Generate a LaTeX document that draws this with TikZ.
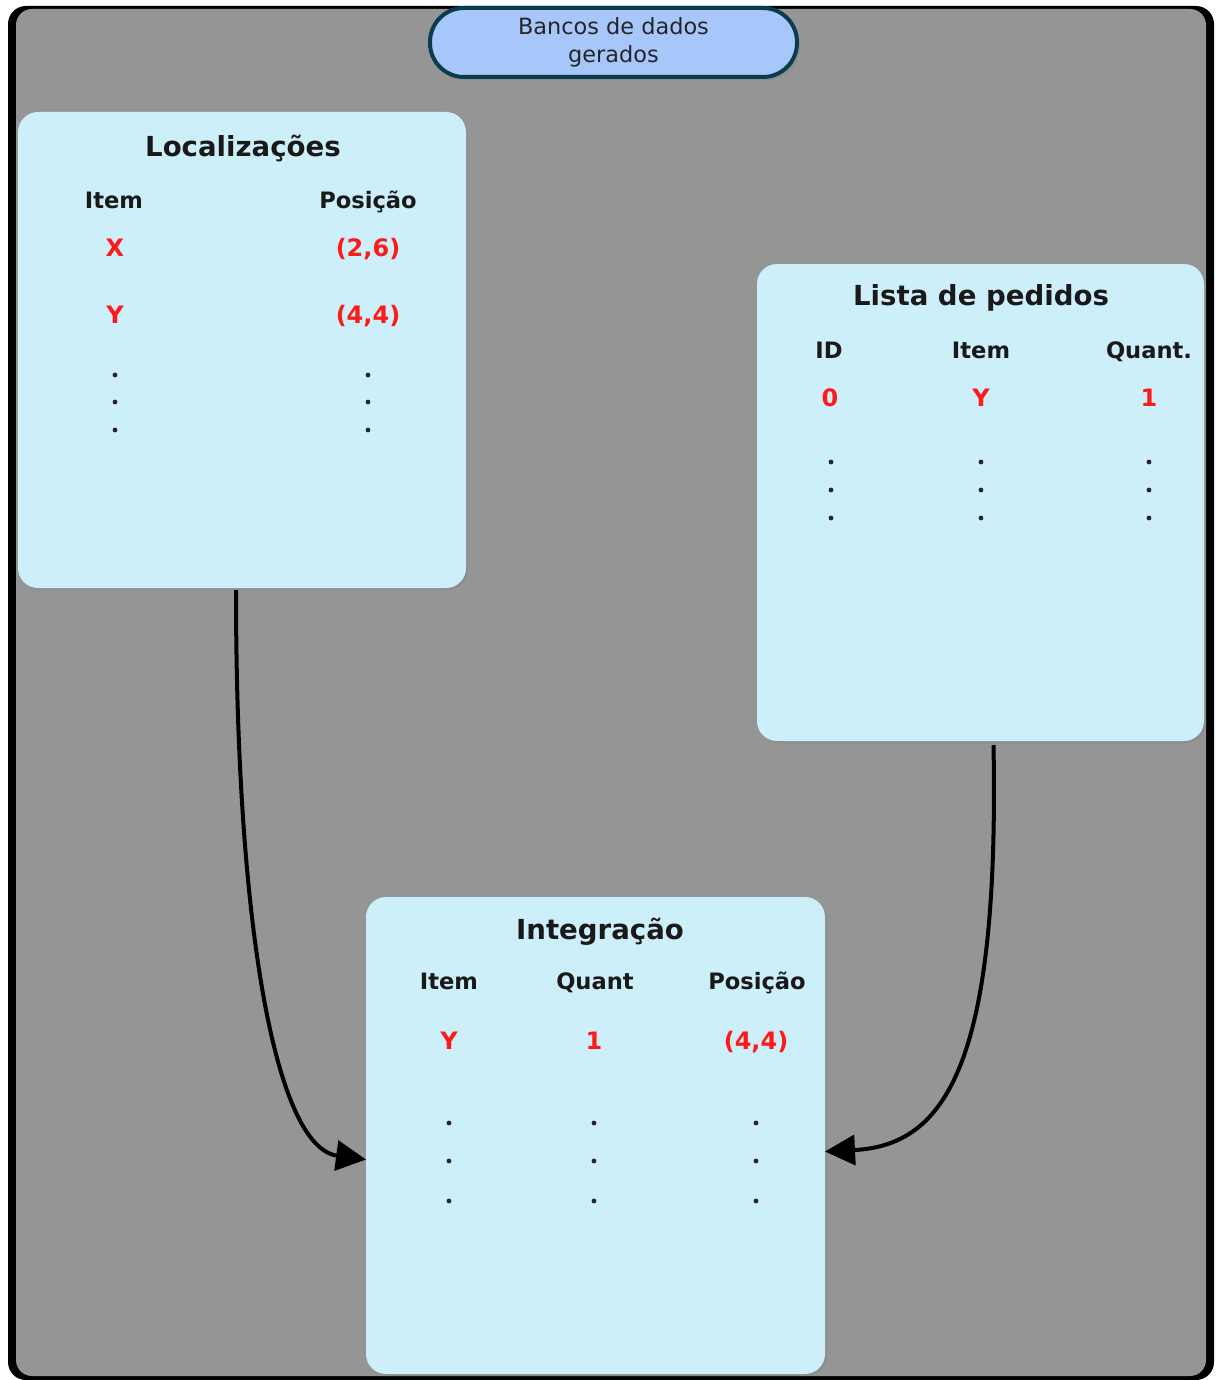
\documentclass[tikz,border=0pt]{standalone}
\usepackage{fontspec}
\setmainfont{DejaVu Sans}
\usetikzlibrary{arrows.meta,shadows}
\definecolor{bggray}{HTML}{959595}
\definecolor{boxblue}{HTML}{CDEFFA}
\definecolor{pillblue}{HTML}{A7C6FA}
\definecolor{pillborder}{HTML}{0B3C4E}
\definecolor{valred}{HTML}{FF1A1A}
\begin{document}
\begin{tikzpicture}[x=0.5pt,y=-0.5pt,
  panel/.style={fill=boxblue,draw=none,rounded corners=10pt,inner sep=0pt,outer sep=0pt,
    drop shadow={shadow xshift=1pt,shadow yshift=-1pt,opacity=0.35}},
  pill/.style={fill=pillblue,draw=pillborder,line width=2pt,rounded corners=17pt,inner sep=0pt,outer sep=0pt,
    minimum width=183.5pt,minimum height=34.5pt,align=center,
    font=\fontsize{11.2}{14}\selectfont,text=black!85,
    drop shadow={shadow xshift=1.5pt,shadow yshift=-1.5pt,opacity=0.35}},
  ttl/.style={font=\bfseries\fontsize{13.8}{16}\selectfont,text=black!90,inner sep=0pt,anchor=base,yshift=-5pt},
  hdr/.style={font=\bfseries\fontsize{11.3}{13}\selectfont,text=black!90,inner sep=0pt,anchor=base,yshift=-4.1pt},
  val/.style={font=\bfseries\fontsize{12}{14}\selectfont,text=valred,inner sep=0pt,anchor=base,yshift=-4.4pt},
  vdot/.style={fill=black!85,draw=none,circle,inner sep=0pt,minimum size=2.4pt},
  conn/.style={line width=2pt,draw=black,-{Triangle[length=15pt,width=15pt]}}
]
\useasboundingbox (0,0) rectangle (1215,1380);
\fill[white] (0,0) rectangle (1215,1380);
% outer frame
\fill[black, rounded corners=9pt] (8,6) rectangle (1214,1380);
\fill[bggray, rounded corners=8pt] (16,9) rectangle (1206,1376);

% top pill
\node[pill] (top) at (613.5,42.5) {Bancos de dados\\gerados};

% Localizacoes
\node[panel,minimum width=224pt,minimum height=238pt] (loc) at (242,350) {};
\node[ttl] (locT) at (243,147) {Localizações};
\node[hdr] (locH1) at (114,200) {Item};
\node[hdr] (locH2) at (368,200) {Posição};
\node[val] (locX) at (115,248) {X};
\node[val] (locXp) at (368,248) {(2,6)};
\node[val] (locY) at (115,315) {Y};
\node[val] (locYp) at (368,315) {(4,4)};
\foreach \yy [count=\i] in {375,402,430}{
  \node[vdot] (locda\i) at (115,\yy) {};
  \node[vdot] (locdb\i) at (368,\yy) {};
}

% Lista de pedidos
\node[panel,minimum width=223.5pt,minimum height=238.5pt] (lis) at (980.5,502.5) {};
\node[ttl] (lisT) at (981,295) {Lista de pedidos};
\node[hdr] (lisH1) at (829,350) {ID};
\node[hdr] (lisH2) at (981,350) {Item};
\node[hdr] (lisH3) at (1149,350) {Quant.};
\node[val] (lisV1) at (830,398) {0};
\node[val] (lisV2) at (981,398) {Y};
\node[val] (lisV3) at (1149,398) {1};
\foreach \yy [count=\i] in {462,490,518}{
  \node[vdot] (lisda\i) at (831,\yy) {};
  \node[vdot] (lisdb\i) at (981,\yy) {};
  \node[vdot] (lisdc\i) at (1149,\yy) {};
}

% Integracao
\node[panel,minimum width=229.5pt,minimum height=238.5pt] (int) at (595.5,1135.5) {};
\node[ttl] (intT) at (600,929) {Integração};
\node[hdr] (intH1) at (449,981) {Item};
\node[hdr] (intH2) at (595,981) {Quant};
\node[hdr] (intH3) at (757,981) {Posição};
\node[val] (intV1) at (449,1041) {Y};
\node[val] (intV2) at (594,1041) {1};
\node[val] (intV3) at (756,1041) {(4,4)};
\foreach \yy [count=\i] in {1123,1161,1201}{
  \node[vdot] (intda\i) at (449,\yy) {};
  \node[vdot] (intdb\i) at (594,\yy) {};
  \node[vdot] (intdc\i) at (756,\yy) {};
}

% connectors
\coordinate (c1s) at ([xshift=-3pt,yshift=-1pt]loc.south);
\coordinate (c1e) at ([yshift=-12pt]int.west);
\draw[conn] (c1s) .. controls ([yshift=-170pt]c1s) and ([xshift=-45pt,yshift=6pt]c1e) .. (c1e);
\coordinate (c2s) at ([xshift=6.5pt,yshift=-2pt]lis.south);
\coordinate (c2e) at ([yshift=-8pt]int.east);
\draw[conn] (c2s) .. controls ([yshift=-160pt,xshift=3pt]c2s) and ([xshift=60pt,yshift=3pt]c2e) .. (c2e);
\end{tikzpicture}
\end{document}
